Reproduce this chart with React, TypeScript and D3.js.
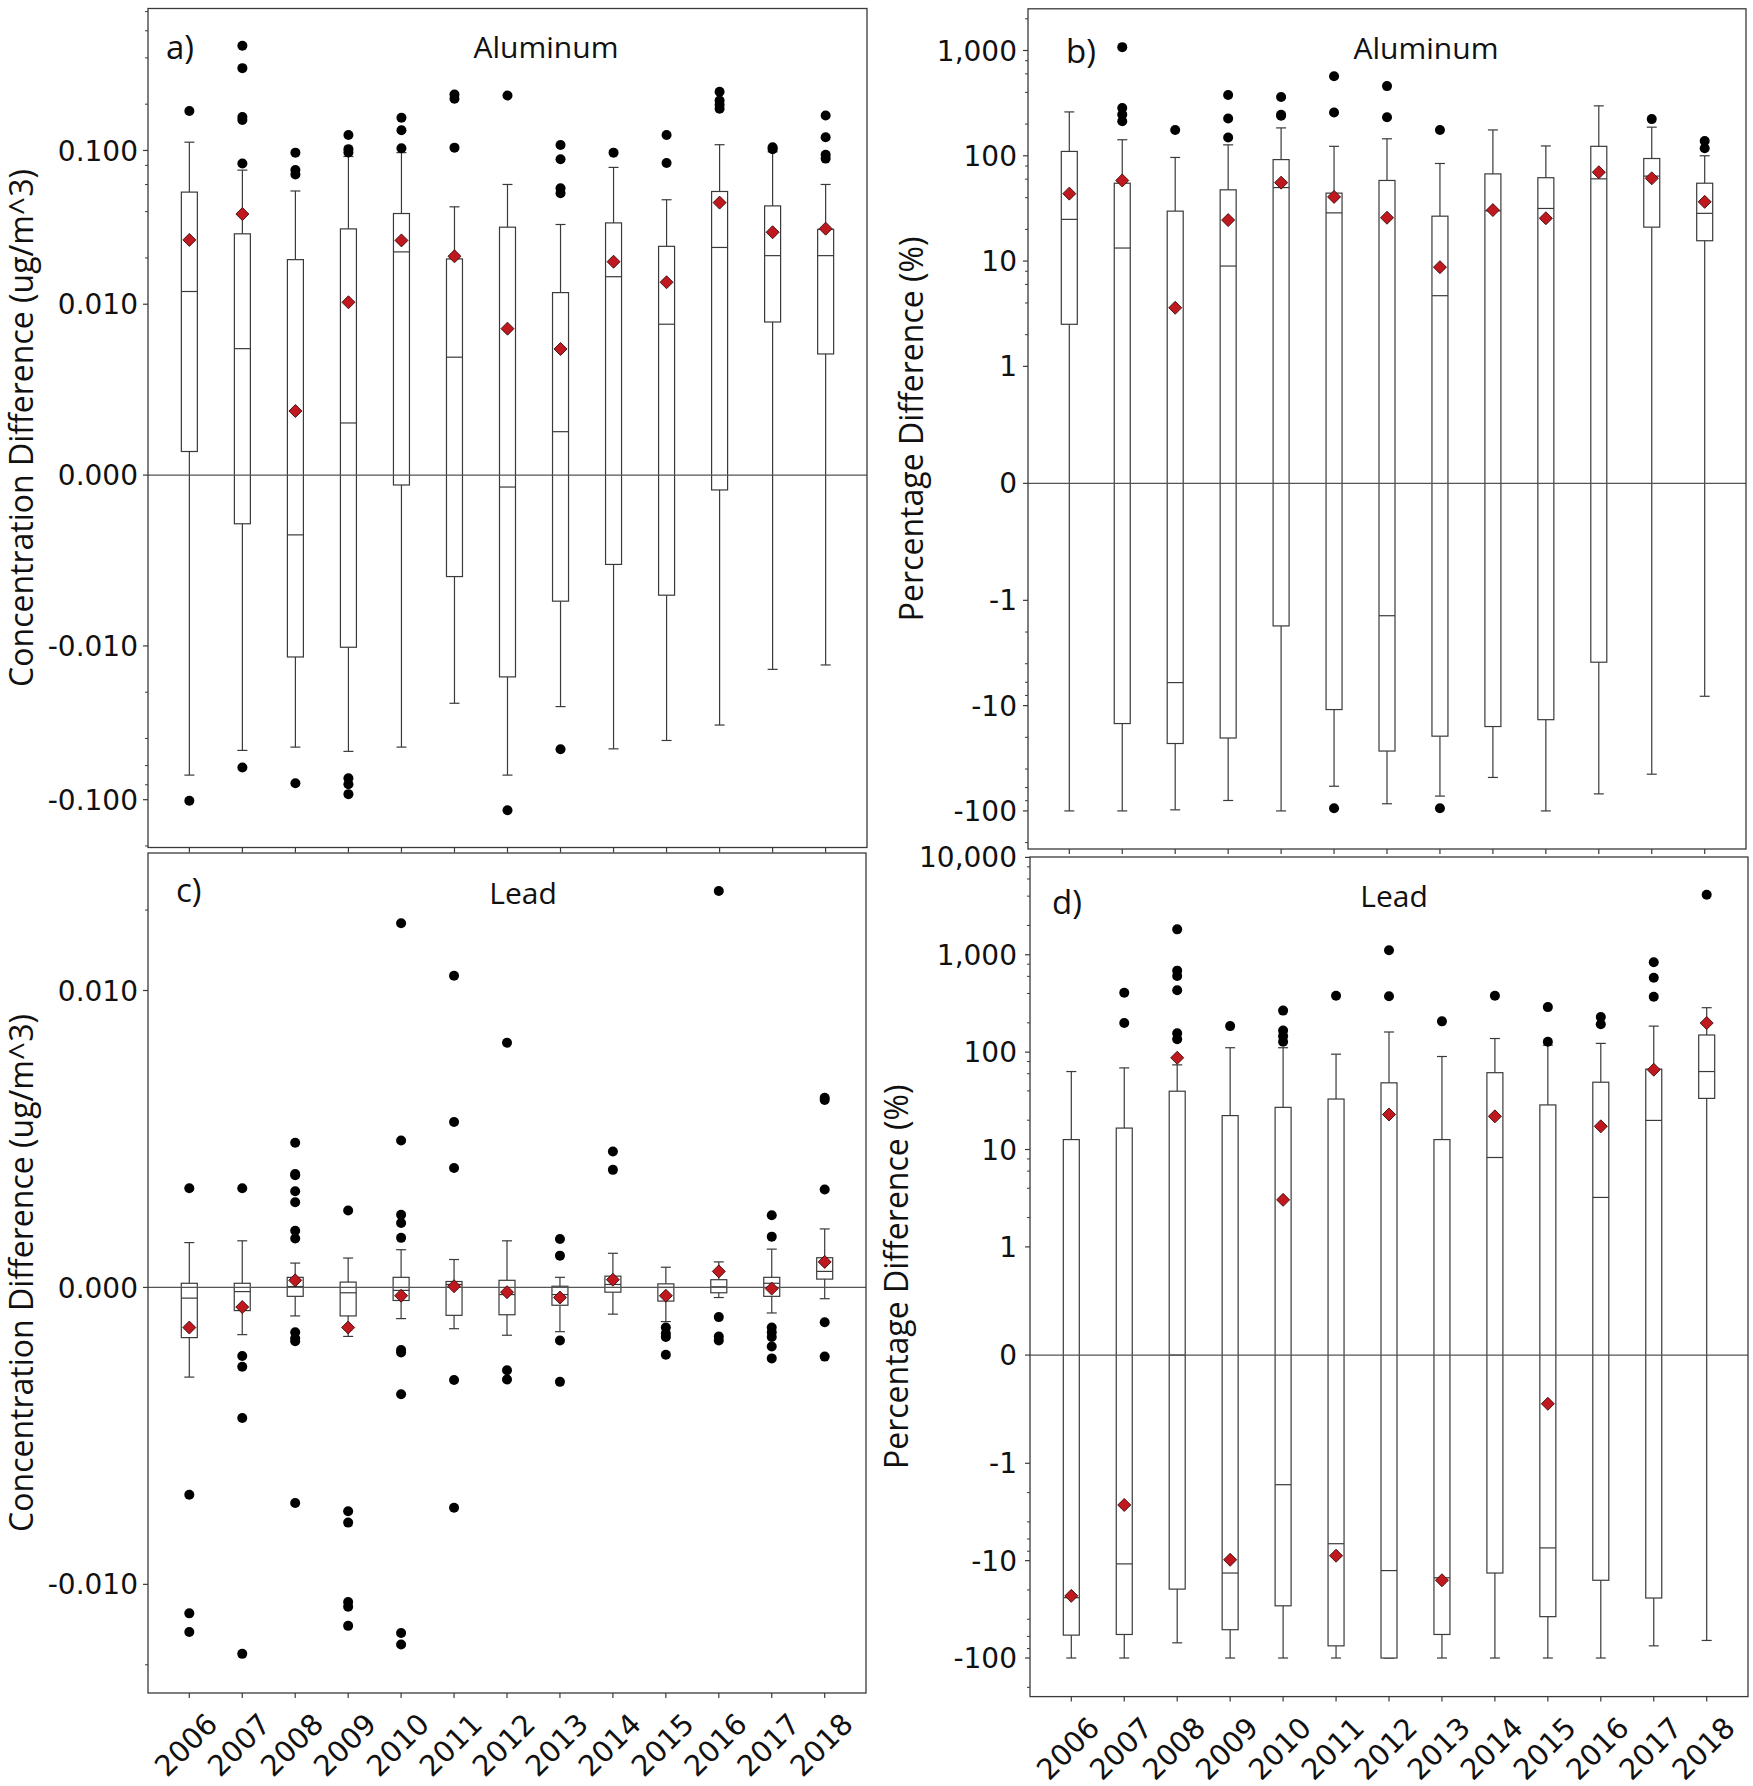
import React from 'react';
import * as d3 from 'd3';

const years = ['2006','2007','2008','2009','2010','2011','2012','2013','2014','2015','2016','2017','2018'];

// each row: [whiskerLow, Q1, median, Q3, whiskerHigh, mean]
const alConcBox = [
  [-0.0692, 0.00138, 0.0121, 0.0536, 0.1132, 0.0262],
  [-0.0478, -0.00285, 0.0074, 0.0287, 0.0745, 0.0386],
  [-0.0455, -0.0118, -0.0035, 0.0195, 0.0545, 0.00375],
  [-0.0485, -0.0102, 0.00305, 0.0309, 0.0914, 0.0103],
  [-0.0455, -0.00058, 0.0219, 0.0389, 0.0968, 0.026],
  [-0.0236, -0.00594, 0.0069, 0.0197, 0.043, 0.0205],
  [-0.0692, -0.0159, -0.0007, 0.0317, 0.0601, 0.00857],
  [-0.0248, -0.00738, 0.00254, 0.0119, 0.033, 0.00738],
  [-0.0467, -0.00523, 0.0151, 0.0338, 0.0776, 0.0189],
  [-0.0412, -0.00703, 0.00883, 0.0238, 0.0478, 0.0139],
  [-0.0327, -0.00087, 0.0234, 0.0541, 0.109, 0.0458],
  [-0.0142, 0.00896, 0.0207, 0.0436, 0.098, 0.0294],
  [-0.0133, 0.00709, 0.0207, 0.0307, 0.0601, 0.031],
];
const alConcOut = [
  [0.1807, -0.1017],
  [0.48, 0.343, 0.165, 0.158, 0.0822, -0.0617],
  [0.0968, 0.0745, 0.0697, -0.0782],
  [0.126, 0.102, 0.097, -0.0726, -0.0794, -0.092],
  [0.163, 0.1355, 0.1035],
  [0.231, 0.217, 0.1043],
  [0.2275, -0.117],
  [0.1086, 0.0877, 0.0568, 0.0527, -0.047],
  [0.0968],
  [0.126, 0.0828],
  [0.241, 0.211, 0.198, 0.187],
  [0.105, 0.102],
  [0.169, 0.122, 0.0938, 0.0885],
];

const alPctBox = [
  [-100, 2.51, 24.9, 110, 261, 43.7],
  [-100, -14.8, 13.3, 54.9, 142, 58.3],
  [-97.7, -22.9, -6.04, 29.8, 96.4, 3.6],
  [-79.6, -20.3, 8.97, 47.5, 127, 24.5],
  [-100, -1.75, 49.9, 92, 184, 55.6],
  [-58.3, -10.9, 28.7, 44.2, 123, 40.7],
  [-85.5, -27.0, -1.4, 58.3, 145, 25.8],
  [-72.3, -19.5, 4.69, 26.7, 84.5, 8.75],
  [-48.1, -15.8, 30.0, 67.3, 176, 30.5],
  [-100, -13.6, 31.6, 61.9, 124, 25.5],
  [-68.9, -3.87, 60.4, 123, 298, 69.8],
  [-44.8, 21.0, 64.1, 94.2, 187, 61.1],
  [-8.15, 15.6, 28.4, 54.9, 100, 36.5],
];
const alPctOut = [
  [],
  [1076, 284, 246, 213],
  [176],
  [378, 226, 149],
  [361, 245, 240],
  [570, 258, -94.2],
  [459, 232],
  [176, -94.2],
  [],
  [],
  [],
  [223],
  [138, 118],
];

const pbConcBox = [
  [-0.00302, -0.00169, -0.00036, 0.00014, 0.00151, -0.00135],
  [-0.00159, -0.00078, -0.00014, 0.00014, 0.00157, -0.00066],
  [-0.00096, -0.0003, 0.00003, 0.00034, 0.00082, 0.00024],
  [-0.00165, -0.00096, -0.00018, 0.00018, 0.00099, -0.00135],
  [-0.00105, -0.00044, -0.0001, 0.00034, 0.00127, -0.00028],
  [-0.00139, -0.00094, 0.0001, 0.0002, 0.00094, 0.00004],
  [-0.00161, -0.00092, -0.00024, 0.00024, 0.00157, -0.00016],
  [-0.00149, -0.0006, -0.00024, 0.00004, 0.00034, -0.00034],
  [-0.0009, -0.00016, 0.0001, 0.00038, 0.00115, 0.00026],
  [-0.00115, -0.00046, 0.0, 0.00012, 0.00068, -0.00028],
  [-0.00034, -0.00018, 0.00002, 0.00026, 0.00086, 0.00054],
  [-0.00086, -0.0003, 0.00014, 0.00034, 0.00129, -0.00004],
  [-0.00038, 0.00028, 0.00054, 0.001, 0.00197, 0.00086],
];
const pbConcOut = [
  [0.00334, -0.00698, -0.01284, -0.01507],
  [0.00334, -0.00231, -0.00267, -0.0044, -0.0182],
  [0.00487, 0.00382, 0.00378, 0.00324, 0.00287, 0.00191, 0.00165, -0.00151, -0.00171, -0.00181, -0.00726],
  [0.00259, -0.00754, -0.00792, -0.01164, -0.01213, -0.0143],
  [0.01784, 0.00495, 0.00245, 0.00217, 0.00167, -0.00211, -0.00219, -0.0036, -0.0152, -0.01678],
  [0.01135, 0.00557, 0.00402, -0.00312, -0.00742],
  [0.00824, -0.00279, -0.0031],
  [0.00163, 0.00107, -0.00179, -0.00318],
  [0.00458, 0.00396],
  [-0.00135, -0.00155, -0.00167, -0.00227],
  [0.02356, -0.001, -0.00165, -0.00179],
  [0.00243, 0.00171, -0.00135, -0.00151, -0.00167, -0.00199, -0.00239],
  [0.00639, 0.00631, 0.0033, -0.00117, -0.00233],
];

const pbPctBox = [
  [-100, -58.2, -24, 12.65, 63.2, -23],
  [-100, -57.3, -10.8, 16.6, 68.9, -2.68],
  [-69.8, -19.6, 0, 39.7, 74, 87.5],
  [-100, -51.2, -13.4, 22.3, 111, -9.8],
  [-100, -29.1, -1.66, 27.1, 111, 3.04],
  [-100, -75, -6.7, 33.0, 95.3, -8.9],
  [-100, -100, -12.65, 48.4, 161, 22.9],
  [-100, -57.3, -15, 12.65, 90.2, -15.9],
  [-100, -13.4, 8.28, 61.5, 138, 21.9],
  [-100, -37.6, -7.4, 28.7, 118, -0.45],
  [-100, -15.9, 3.22, 49.1, 123, 17.3],
  [-75, -24.2, 19.9, 67, 185, 66],
  [-66, 33.5, 63.2, 150, 286, 199],
];
const pbPctOut = [
  [],
  [408, 199],
  [1824, 687, 605, 432, 156, 136],
  [185],
  [267, 167, 146, 128],
  [380],
  [1112, 375],
  [207],
  [380],
  [290, 128],
  [229, 193],
  [838, 581, 370],
  [4130],
];

const concTicks = [0.1, 0.01, 0, -0.01, -0.1];
const leadConcTicks = [0.01, 0, -0.01];
const alPctTicks = [1000, 100, 10, 1, 0, -1, -10, -100];
const pbPctTicks = [10000, 1000, 100, 10, 1, 0, -1, -10, -100];

// matplotlib-style symmetric log transform (linscale = 1, base 10)
const symT = (lt: number) => (v: number) => {
  const a = Math.abs(v);
  const lin = 1 / 0.9;
  if (a <= lt) return (v / lt) * lin;
  return Math.sign(v) * (lin + Math.log10(a / lt));
};

const fmtConc = (v: number) => (v < 0 ? '-' : '') + d3.format('.3f')(Math.abs(v));
const fmtPct = (v: number) => (v < 0 ? '-' : '') + d3.format(',')(Math.abs(v));

const panels = [
  { key: 'a', box: alConcBox, out: alConcOut, lt: 0.01, dom: [-0.2046, 0.838], x0: 148, x1: 867, y0: 8.5, y1: 847.5,
    ticks: concTicks, fmt: fmtConc, yTitle: 'Concentration Difference (ug/m^3)', titleX: 33, labelTxt: 'a)', labelX: 166, labelY: 59,
    name: 'Aluminum', nameX: 546, nameY: 58, tickLabelX: 138, years: false },
  { key: 'b', box: alPctBox, out: alPctOut, lt: 1, dom: [-230, 2489], x0: 1028, x1: 1746, y0: 8.8, y1: 849,
    ticks: alPctTicks, fmt: fmtPct, yTitle: 'Percentage Difference (%)', titleX: 923, labelTxt: 'b)', labelX: 1066, labelY: 63,
    name: 'Aluminum', nameX: 1426, nameY: 59, tickLabelX: 1017, years: false },
  { key: 'c', box: pbConcBox, out: pbConcOut, lt: 0.01, dom: [-0.0255, 0.0327], x0: 148, x1: 866, y0: 853, y1: 1693,
    ticks: leadConcTicks, fmt: fmtConc, yTitle: 'Concentration Difference (ug/m^3)', titleX: 33, labelTxt: 'c)', labelX: 176, labelY: 902,
    name: 'Lead', nameX: 523, nameY: 904, tickLabelX: 138, years: true },
  { key: 'd', box: pbPctBox, out: pbPctOut, lt: 1, dom: [-249, 10093], x0: 1030, x1: 1748, y0: 857, y1: 1696.6,
    ticks: pbPctTicks, fmt: fmtPct, yTitle: 'Percentage Difference (%)', titleX: 908, labelTxt: 'd)', labelX: 1052, labelY: 914,
    name: 'Lead', nameX: 1394, nameY: 907, tickLabelX: 1017, years: true },
];

const minorTicks = (lt: number, lo: number, hi: number) => {
  const res: number[] = [];
  for (let e = 0; e < 8; e++) {
    for (const m of [2, 4, 6, 8]) {
      const v = m * lt * Math.pow(10, e);
      if (v < hi) res.push(v);
      if (-v > lo) res.push(-v);
    }
  }
  return res;
};

const TICK_FONT = 'DejaVu Sans, Verdana, sans-serif';
const TEXT_FONT = '"Open Sans", "Noto Sans", sans-serif';
const STROKE = '#3a3a3a';

function Panel({ p }: { p: any }) {
  const T = symT(p.lt);
  const lin = d3.scaleLinear().domain([T(p.dom[0]), T(p.dom[1])]).range([p.y1, p.y0]);
  const y = (v: number) => lin(T(v));
  const x = d3.scalePoint<string>().domain(years).range([p.x0, p.x1]).padding(0.78);
  const bw = 16;
  const cap = 10;
  const dm = 6.5;
  const minors = minorTicks(p.lt, p.dom[0], p.dom[1]);
  const midY = (p.y0 + p.y1) / 2;
  return (
    <g>
      <rect x={p.x0} y={p.y0} width={p.x1 - p.x0} height={p.y1 - p.y0} fill="#fff" />
      {years.map((yr, i) => {
        const [lo, q1, med, q3, hi] = p.box[i];
        const cx = x(yr) as number;
        return (
          <g key={yr} stroke={STROKE} strokeWidth={1.2} fill="none">
            <line x1={cx} x2={cx} y1={y(q3)} y2={y(hi)} />
            <line x1={cx} x2={cx} y1={y(q1)} y2={y(lo)} />
            <line x1={cx - cap / 2} x2={cx + cap / 2} y1={y(hi)} y2={y(hi)} />
            <line x1={cx - cap / 2} x2={cx + cap / 2} y1={y(lo)} y2={y(lo)} />
            <rect x={cx - bw / 2} y={y(q3)} width={bw} height={Math.max(0.5, y(q1) - y(q3))} fill="#fff" />
            <line x1={cx - bw / 2} x2={cx + bw / 2} y1={y(med)} y2={y(med)} />
          </g>
        );
      })}
      <line x1={p.x0} x2={p.x1} y1={y(0)} y2={y(0)} stroke="#555" strokeWidth={1.3} />
      {years.map((yr, i) =>
        p.out[i].map((v: number, j: number) => (
          <circle key={yr + '-' + j} cx={x(yr) as number} cy={y(v)} r={5} fill="#000" />
        ))
      )}
      {years.map((yr, i) => {
        const cx = x(yr) as number;
        const cy = y(p.box[i][5]);
        return (
          <path key={'m' + yr} d={`M${cx},${cy - dm}L${cx + dm},${cy}L${cx},${cy + dm}L${cx - dm},${cy}Z`}
            fill="#c0181f" stroke="#3b0b0b" strokeWidth={0.9} />
        );
      })}
      <rect x={p.x0} y={p.y0} width={p.x1 - p.x0} height={p.y1 - p.y0} fill="none" stroke={STROKE} strokeWidth={1.3} />
      {p.ticks.map((t: number) => (
        <g key={'t' + t}>
          <line x1={p.x0 - 5} x2={p.x0} y1={y(t)} y2={y(t)} stroke={STROKE} strokeWidth={1.2} />
          <text x={p.tickLabelX} y={y(t)} dy="0.36em" textAnchor="end" fontFamily={TICK_FONT} fontSize={28} fill="#111">
            {p.fmt(t)}
          </text>
        </g>
      ))}
      {minors.map((t: number) => (
        <line key={'mn' + t} x1={p.x0 - 3} x2={p.x0} y1={y(t)} y2={y(t)} stroke={STROKE} strokeWidth={1} />
      ))}
      {years.map((yr) => (
        <line key={'xt' + yr} x1={x(yr) as number} x2={x(yr) as number} y1={p.y1} y2={p.y1 + 5} stroke={STROKE} strokeWidth={1.2} />
      ))}
      {p.years &&
        years.map((yr) => {
          const ax = (x(yr) as number) + 30;
          const ay = p.y1 + 33;
          return (
            <text key={'yl' + yr} x={ax} y={ay} transform={`rotate(-45 ${ax} ${ay})`} textAnchor="end"
              fontFamily={TICK_FONT} fontSize={29} fill="#111">
              {yr}
            </text>
          );
        })}
      <text x={p.titleX} y={midY} transform={`rotate(-90 ${p.titleX} ${midY})`} textAnchor="middle"
        fontFamily={TEXT_FONT} fontSize={32} fill="#111">
        {p.yTitle}
      </text>
      <text x={p.labelX} y={p.labelY} fontFamily={TEXT_FONT} fontSize={33} fill="#111">{p.labelTxt}</text>
      <text x={p.nameX} y={p.nameY} textAnchor="middle" fontFamily={TEXT_FONT} fontSize={30} fill="#111">{p.name}</text>
    </g>
  );
}

export default function App() {
  return (
    <div style={{ position: 'absolute', left: 0, top: 0, background: '#fff' }}>
      <svg width={1753} height={1786} viewBox="0 0 1753 1786" style={{ display: 'block', background: '#fff' }}>
        <rect x={0} y={0} width={1753} height={1786} fill="#fff" />
        {panels.map((p) => (
          <Panel key={p.key} p={p} />
        ))}
      </svg>
    </div>
  );
}
